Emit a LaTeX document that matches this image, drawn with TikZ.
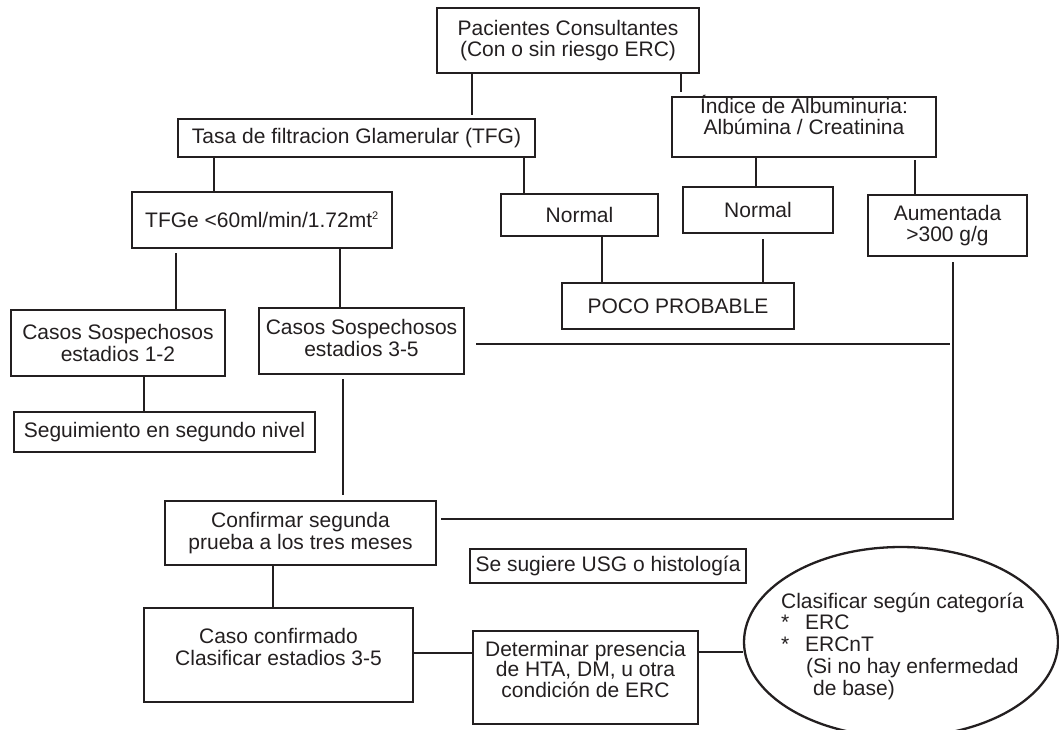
\documentclass[tikz,border=0pt]{standalone}
\usepackage{fontspec}
\setmainfont{Liberation Sans}
\usetikzlibrary{shapes.geometric}
\definecolor{ink}{HTML}{231F20}
\begin{document}
\begin{tikzpicture}[x=1pt,y=-1pt,
  box/.style={draw=ink, line width=2.6pt, rectangle, inner sep=0pt, align=center, text=ink,
    font=\fontsize{21}{21.5}\selectfont},
  txt/.style={inner sep=0pt, align=center, text=ink, font=\fontsize{21}{21.5}\selectfont},
  conn/.style={draw=ink, line width=2.7pt}]
\useasboundingbox (0,0) rectangle (1059,729);

% boxes
\node[box, minimum width=262pt, minimum height=65pt] (pac) at (568,40.5) {Pacientes Consultantes\\(Con o sin riesgo ERC)};
\node[box, minimum width=357pt, minimum height=38pt] (tfg) at (356.5,138) {Tasa de filtracion Glamerular (TFG)};
\node[box, minimum width=264pt, minimum height=60pt] (alb) at (804,127) {};
\node[txt] (albt) at (804,115) {Índice de Albuminuria:\\Albúmina / Creatinina};
\node[box, minimum width=260pt, minimum height=56pt] (tfge) at (262,220) {TFGe <60ml/min/1.72mt\textsuperscript{\fontsize{11}{11}\selectfont 2}};
\node[box, minimum width=157pt, minimum height=42pt] (n1) at (579.5,215) {Normal};
\node[box, minimum width=150pt, minimum height=46pt] (n2) at (758,210) {Normal};
\node[box, minimum width=159pt, minimum height=61pt] (aum) at (947.5,225.5) {Aumentada\\>300 g/g};
\node[box, minimum width=232pt, minimum height=46pt] (poco) at (678,306) {POCO PROBABLE};
\node[box, minimum width=214pt, minimum height=66pt] (cas1) at (118,343) {Casos Sospechosos\\estadios 1-2};
\node[box, minimum width=205pt, minimum height=66pt] (cas2) at (361.5,341) {};
\node[txt] (cas2t) at (361.5,338) {Casos Sospechosos\\estadios 3-5};
\node[box, minimum width=301pt, minimum height=40pt] (seg) at (164.5,432) {Seguimiento en segundo nivel};
\node[box, minimum width=271pt, minimum height=64pt] (conf) at (300.5,533) {Confirmar segunda\\prueba a los tres meses};
\node[box, minimum width=276pt, minimum height=34pt] (usg) at (608,566) {Se sugiere USG o histología};
\node[box, minimum width=269pt, minimum height=94pt] (caso) at (278.5,655) {};
\node[txt] (casot) at (278.5,647) {Caso confirmado\\Clasificar estadios 3-5};
\node[box, minimum width=225pt, minimum height=93pt] (det) at (585.5,677.5) {};
\node[txt, font=\fontsize{21}{20.5}\selectfont] (dett) at (585.5,669) {Determinar presencia\\de HTA, DM, u otra\\condición de ERC};
\node[draw=ink, line width=2.3pt, ellipse, minimum width=314pt, minimum height=190pt, inner sep=0pt] (ell) at (901,642) {};
\node[txt, align=left, font=\fontsize{21}{21.75}\selectfont] (ellt) at (902.5,646) {Clasificar según categoría\\
\makebox[24pt][l]{*}ERC\\
\makebox[24pt][l]{*}ERCnT\\
\hspace*{25pt}(Si no hay enfermedad\\
\hspace*{32pt}de base)};

% connectors
\draw[conn, shorten >=3pt] (pac.south -| 472,0) -- (tfg.north -| 472,0);
\draw[conn, shorten >=4pt] (pac.south -| 681,0) -- (alb.north -| 681,0);
\draw[conn] (tfg.south -| 214,0) -- (tfge.north -| 214,0);
\draw[conn] (tfg.south -| 524,0) -- (n1.north -| 524,0);
\draw[conn] (alb.south -| 756,0) -- (n2.north -| 756,0);
\draw[conn, shorten <=2pt] (alb.south -| 915,0) -- (aum.north -| 915,0);
\draw[conn, shorten <=4pt] (tfge.south -| 176,0) -- (cas1.north -| 176,0);
\draw[conn] (tfge.south -| 340,0) -- (cas2.north -| 340,0);
\draw[conn] (n1.south -| 602,0) -- (poco.north -| 602,0);
\draw[conn, shorten <=5pt] (n2.south -| 763,0) -- (poco.north -| 763,0);
\draw[conn] (cas1.south -| 144,0) -- (seg.north -| 144,0);
\draw[conn, shorten <=4pt, shorten >=5pt] (cas2.south -| 343,0) -- (conf.north -| 343,0);
\coordinate (c1) at (953,344);
\coordinate (c2) at (953,519);
\draw[conn, shorten <=11pt, shorten >=3pt] (cas2.east |- c1) -- (c1);
\draw[conn, shorten <=5pt, shorten >=4pt] (aum.south -| c1) -- (c2) -- (conf.east |- c2);
\draw[conn] (conf.south -| 273,0) -- (caso.north -| 273,0);
\draw[conn] (caso.east |- 0,653) -- (det.west |- 0,653);
\draw[conn] (det.east |- 0,652) -- (ell.west |- 0,652);
\end{tikzpicture}
\end{document}
